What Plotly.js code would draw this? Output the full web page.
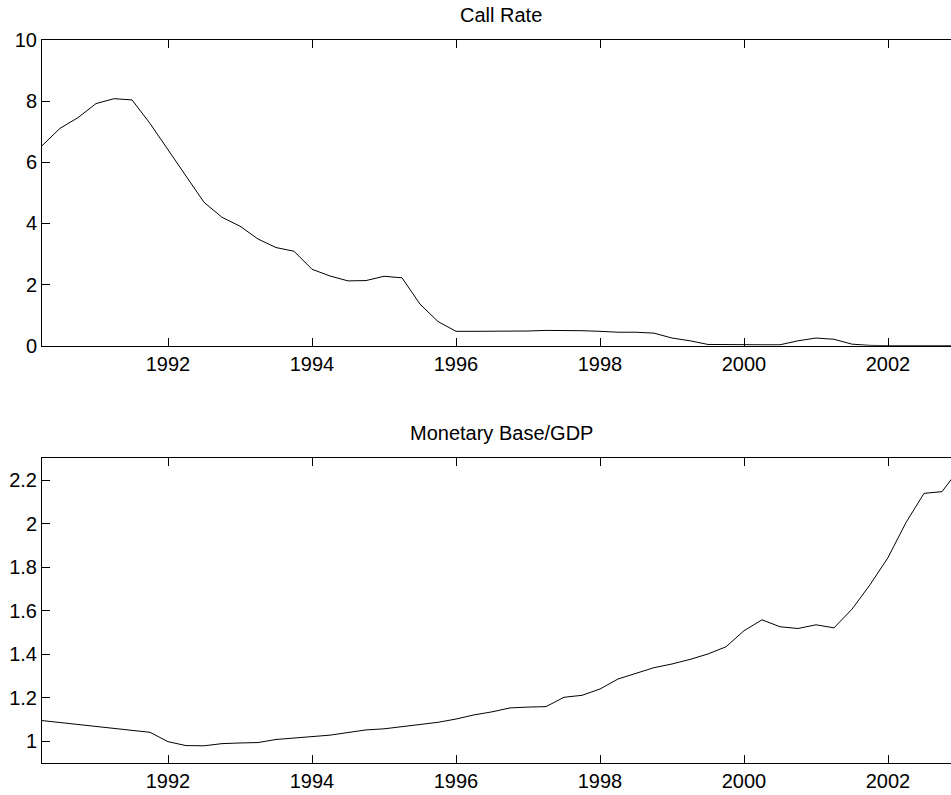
<!DOCTYPE html>
<html>
<head>
<meta charset="utf-8">
<script src="https://cdn.plot.ly/plotly-3.0.1.min.js"></script>
<style>
  html, body { margin: 0; padding: 0; overflow: hidden; background: #fff; }
  #chart { width: 1000px; height: 795px; }
</style>
</head>
<body>
<div id="chart"></div>
<script>
// Quarterly observations (decimal years)
const quarters = [
  1990.25, 1990.5, 1990.75,
  1991.0, 1991.25, 1991.5, 1991.75,
  1992.0, 1992.25, 1992.5, 1992.75,
  1993.0, 1993.25, 1993.5, 1993.75,
  1994.0, 1994.25, 1994.5, 1994.75,
  1995.0, 1995.25, 1995.5, 1995.75,
  1996.0, 1996.25, 1996.5, 1996.75,
  1997.0, 1997.25, 1997.5, 1997.75,
  1998.0, 1998.25, 1998.5, 1998.75,
  1999.0, 1999.25, 1999.5, 1999.75,
  2000.0, 2000.25, 2000.5, 2000.75,
  2001.0, 2001.25, 2001.5, 2001.75,
  2002.0, 2002.25, 2002.5, 2002.75,
  2003.0
];

// Call Rate (%)
const callRate = [
  6.54, 7.11, 7.46,
  7.92, 8.08, 8.04, 7.27,
  6.40, 5.53, 4.69, 4.20,
  3.91, 3.49, 3.21, 3.09,
  2.50, 2.28, 2.12, 2.13,
  2.27, 2.22, 1.36, 0.79,
  0.47, 0.47, 0.47, 0.46,
  0.48, 0.50, 0.50, 0.49,
  0.47, 0.44, 0.44, 0.41,
  0.25, 0.16, 0.04, 0.03,
  0.03, 0.03, 0.03, 0.16,
  0.25, 0.21, 0.05, 0.01,
  0.002, 0.002, 0.002, 0.002,
  0.002
];

// Monetary Base / GDP
const baseToGdp = [
  1.095, 1.086, 1.078,
  1.070, 1.058, 1.049, 1.041,
  0.998, 0.980, 0.979, 0.989,
  0.992, 0.994, 1.008, 1.014,
  1.023, 1.028, 1.040, 1.052,
  1.057, 1.066, 1.076, 1.087,
  1.102, 1.121, 1.135, 1.153,
  1.157, 1.159, 1.202, 1.211,
  1.240, 1.286, 1.312, 1.338,
  1.355, 1.376, 1.401, 1.434,
  1.508, 1.558, 1.526, 1.518,
  1.535, 1.521, 1.607, 1.719,
  1.844, 2.005, 2.139, 2.147,
  2.256
];

const titles = ['Call Rate', 'Monetary Base/GDP'];
const xTicks = [1992, 1994, 1996, 1998, 2000, 2002];
const yTicksTop = [0, 2, 4, 6, 8, 10];
const yTicksBottom = [1, 1.2, 1.4, 1.6, 1.8, 2, 2.2];

const FONT = 'Liberation Sans, Arial, Helvetica, sans-serif';

const traces = [
  { x: quarters, y: callRate, type: 'scatter', mode: 'lines',
    line: { color: '#000', width: 1 }, xaxis: 'x', yaxis: 'y', hoverinfo: 'skip' },
  { x: quarters, y: baseToGdp, type: 'scatter', mode: 'lines',
    line: { color: '#000', width: 1 }, xaxis: 'x2', yaxis: 'y2', hoverinfo: 'skip' }
];

const axisCommon = {
  showline: true, linecolor: '#000', linewidth: 1, mirror: 'ticks',
  ticks: 'inside', ticklen: 8, tickwidth: 1, tickcolor: '#000',
  showgrid: false, zeroline: false,
  tickfont: { family: FONT, size: 20, color: '#000' }
};

const layout = {
  width: 1000, height: 795,
  margin: { l: 42, r: 40, t: 40, b: 32 },
  paper_bgcolor: '#fff', plot_bgcolor: '#fff',
  showlegend: false,
  font: { family: FONT, size: 20, color: '#000' },
  xaxis: Object.assign({}, axisCommon, {
    range: [1990.25, 2003], tickmode: 'array', tickvals: xTicks,
    anchor: 'y', domain: [0, 1]
  }),
  yaxis: Object.assign({}, axisCommon, {
    range: [0, 10], tickmode: 'array', tickvals: yTicksTop,
    anchor: 'x', domain: [0.5772, 1]
  }),
  xaxis2: Object.assign({}, axisCommon, {
    range: [1990.25, 2003], tickmode: 'array', tickvals: xTicks,
    anchor: 'y2', domain: [0, 1]
  }),
  yaxis2: Object.assign({}, axisCommon, {
    range: [0.9, 2.3], tickmode: 'array', tickvals: yTicksBottom,
    anchor: 'x2', domain: [0, 0.4214]
  }),
  annotations: [
    { text: titles[0], xref: 'x domain', yref: 'y domain', x: 0.5, y: 1,
      xanchor: 'center', yanchor: 'bottom', yshift: 12, showarrow: false,
      font: { family: FONT, size: 20, color: '#000' } },
    { text: titles[1], xref: 'x2 domain', yref: 'y2 domain', x: 0.5, y: 1,
      xanchor: 'center', yanchor: 'bottom', yshift: 12, showarrow: false,
      font: { family: FONT, size: 20, color: '#000' } }
  ]
};

Plotly.newPlot('chart', traces, layout, { displayModeBar: false, staticPlot: true });
</script>
</body>
</html>
